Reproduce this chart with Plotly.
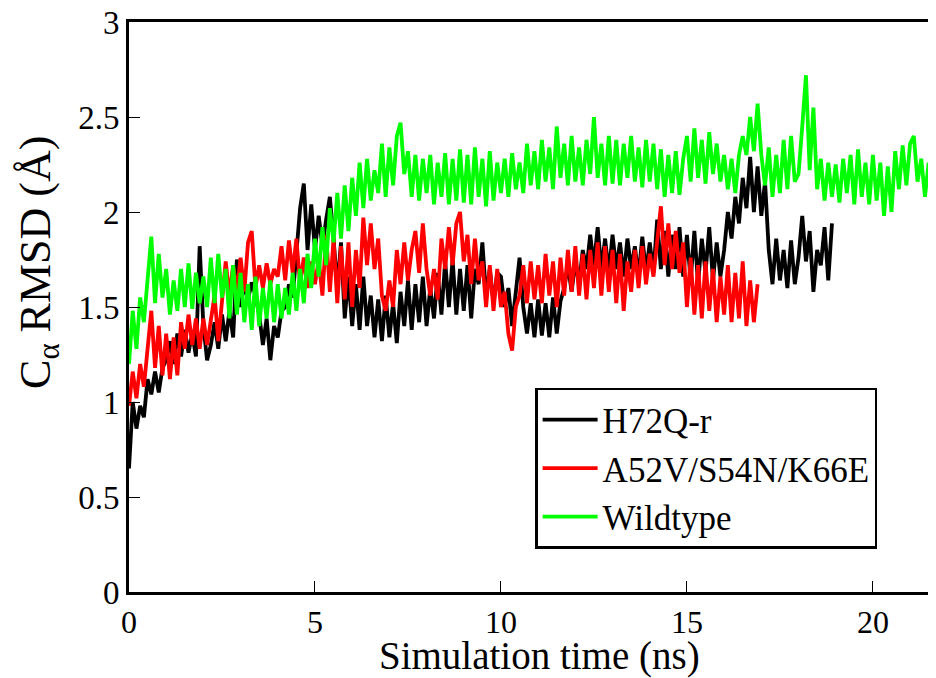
import plotly.graph_objects as go

# Sampling interval of the traces (ns)
DT = 0.1

series_names = ["H72Q-r", "A52V/S54N/K66E", "Wildtype"]
series_colors = ["#000000", "#ff0000", "#00ff00"]

# H72Q-r  C-alpha RMSD (Angstrom), 0 .. 18.9 ns
h72q_r = [
    0.65, 1.00, 0.86, 0.98, 0.92, 1.12, 1.04, 1.16, 1.05, 1.18,
    1.22, 1.32, 1.20, 1.36, 1.24, 1.38, 1.26, 1.36, 1.24, 1.82,
    1.40, 1.22, 1.30, 1.42, 1.28, 1.46, 1.32, 1.48, 1.34, 1.75,
    1.50, 1.62, 1.54, 1.63, 1.56, 1.46, 1.30, 1.44, 1.22, 1.40,
    1.34, 1.48, 1.50, 1.62, 1.55, 1.80, 2.02, 2.15, 1.80, 2.04,
    1.80, 1.98, 1.82, 1.96, 2.08, 1.86, 1.60, 1.84, 1.44, 1.66,
    1.40, 1.62, 1.38, 1.66, 1.40, 1.56, 1.34, 1.54, 1.32, 1.56,
    1.34, 1.52, 1.31, 1.58, 1.40, 1.64, 1.38, 1.62, 1.42, 1.66,
    1.40, 1.60, 1.44, 1.68, 1.46, 1.74, 1.50, 1.75, 1.46, 1.70,
    1.48, 1.72, 1.44, 1.70, 1.62, 1.84, 1.56, 1.70, 1.52, 1.68,
    1.66, 1.50, 1.60, 1.40, 1.56, 1.76, 1.50, 1.36, 1.52, 1.34,
    1.54, 1.35, 1.52, 1.34, 1.55, 1.36, 1.53, 1.60, 1.72, 1.58,
    1.74, 1.62, 1.80, 1.70, 1.88, 1.72, 1.92, 1.70, 1.86, 1.68,
    1.88, 1.70, 1.84, 1.66, 1.86, 1.70, 1.82, 1.66, 1.87, 1.68,
    1.84, 1.68, 1.96, 1.70, 1.90, 1.66, 1.88, 1.70, 1.92, 1.66,
    1.88, 1.64, 1.90, 1.62, 1.86, 1.68, 1.92, 1.64, 1.84, 1.66,
    1.80, 2.00, 1.86, 2.08, 1.94, 2.18, 2.02, 2.29, 2.00, 2.24,
    1.98, 2.16, 1.80, 1.62, 1.86, 1.64, 1.80, 1.60, 1.85, 1.62,
    1.76, 1.98, 1.74, 1.90, 1.58, 1.80, 1.72, 1.92, 1.64, 1.94,
]

# A52V/S54N/K66E  C-alpha RMSD (Angstrom), 0 .. 16.9 ns
a52v_s54n_k66e = [
    0.98, 1.16, 1.02, 1.20, 1.08, 1.30, 1.48, 1.18, 1.40, 1.14,
    1.36, 1.12, 1.34, 1.14, 1.42, 1.28, 1.46, 1.30, 1.44, 1.28,
    1.44, 1.30, 1.42, 1.56, 1.32, 1.54, 1.74, 1.56, 1.72, 1.58,
    1.76, 1.58, 1.84, 1.90, 1.60, 1.72, 1.60, 1.73, 1.62, 1.70,
    1.66, 1.82, 1.64, 1.85, 1.68, 1.86, 1.62, 1.76, 1.60, 1.74,
    1.62, 1.75, 1.56, 1.88, 1.58, 1.86, 1.52, 1.82, 1.54, 1.84,
    1.50, 1.80, 1.60, 1.97, 1.72, 1.94, 1.70, 1.86, 1.56, 1.48,
    1.64, 1.50, 1.80, 1.62, 1.84, 1.64, 1.80, 1.90, 1.68, 1.94,
    1.70, 1.56, 1.70, 1.54, 1.86, 1.70, 1.92, 1.72, 1.94, 2.00,
    1.74, 1.88, 1.62, 1.86, 1.64, 1.74, 1.50, 1.72, 1.48, 1.70,
    1.50, 1.58, 1.36, 1.27, 1.50, 1.56, 1.72, 1.52, 1.74, 1.54,
    1.72, 1.52, 1.78, 1.56, 1.74, 1.50, 1.76, 1.56, 1.80, 1.58,
    1.82, 1.56, 1.78, 1.54, 1.80, 1.60, 1.84, 1.56, 1.82, 1.58,
    1.80, 1.52, 1.78, 1.48, 1.74, 1.58, 1.80, 1.60, 1.82, 1.62,
    1.78, 1.66, 1.86, 2.03, 1.72, 1.94, 1.70, 1.90, 1.68, 1.84,
    1.50, 1.76, 1.46, 1.72, 1.44, 1.74, 1.48, 1.70, 1.42, 1.66,
    1.46, 1.72, 1.42, 1.68, 1.44, 1.74, 1.40, 1.64, 1.42, 1.62,
]

# Wildtype  C-alpha RMSD (Angstrom), 0 .. 21.8 ns
wildtype = [
    1.20, 1.48, 1.28, 1.55, 1.42, 1.62, 1.87, 1.52, 1.78, 1.55,
    1.70, 1.46, 1.64, 1.48, 1.70, 1.50, 1.73, 1.49, 1.68, 1.52,
    1.66, 1.50, 1.76, 1.52, 1.78, 1.55, 1.70, 1.44, 1.72, 1.46,
    1.68, 1.42, 1.62, 1.38, 1.66, 1.40, 1.60, 1.44, 1.64, 1.42,
    1.62, 1.44, 1.60, 1.46, 1.68, 1.48, 1.70, 1.52, 1.78, 1.60,
    1.86, 1.66, 1.92, 1.72, 2.02, 1.84, 2.10, 1.86, 2.14, 1.90,
    2.18, 1.98, 2.26, 2.02, 2.28, 2.06, 2.22, 2.10, 2.36, 2.08,
    2.34, 2.14, 2.40, 2.47, 2.20, 2.32, 2.08, 2.30, 2.06, 2.28,
    2.10, 2.30, 2.04, 2.26, 2.08, 2.31, 2.04, 2.28, 2.06, 2.33,
    2.05, 2.30, 2.04, 2.34, 2.08, 2.28, 2.03, 2.32, 2.06, 2.26,
    2.10, 2.28, 2.08, 2.31, 2.12, 2.26, 2.10, 2.36, 2.14, 2.32,
    2.12, 2.38, 2.16, 2.34, 2.12, 2.45, 2.18, 2.36, 2.14, 2.40,
    2.16, 2.34, 2.14, 2.38, 2.20, 2.50, 2.18, 2.36, 2.14, 2.40,
    2.15, 2.38, 2.14, 2.36, 2.18, 2.40, 2.16, 2.34, 2.13, 2.38,
    2.16, 2.36, 2.12, 2.33, 2.08, 2.30, 2.10, 2.32, 2.09, 2.28,
    2.40, 2.16, 2.44, 2.18, 2.38, 2.15, 2.42, 2.20, 2.36, 2.16,
    2.30, 2.12, 2.28, 2.10, 2.30, 2.40, 2.30, 2.50, 2.32, 2.57,
    2.30, 2.14, 2.34, 2.08, 2.30, 2.10, 2.38, 2.12, 2.40, 2.16,
    2.20, 2.45, 2.72, 2.22, 2.55, 2.12, 2.28, 2.06, 2.26, 2.08,
    2.25, 2.05, 2.28, 2.10, 2.30, 2.04, 2.33, 2.08, 2.26, 2.04,
    2.30, 2.06, 2.26, 1.98, 2.24, 2.00, 2.32, 2.12, 2.35, 2.14,
    2.36, 2.40, 2.16, 2.28, 2.08, 2.26, 2.06, 2.29, 2.12,
]

x_ticks = [0, 5, 10, 15, 20]
y_ticks = [0, 0.5, 1, 1.5, 2, 2.5, 3]
x_title = "Simulation time (ns)"
y_title = "C<sub>α</sub> RMSD (Å)"

FONT = "Liberation Serif"

fig = go.Figure()
for name, color, vals in zip(series_names, series_colors,
                             [h72q_r, a52v_s54n_k66e, wildtype]):
    t = [i * DT for i in range(len(vals))]
    fig.add_trace(go.Scatter(
        x=t, y=vals, mode="lines", name=name,
        line=dict(color=color, width=3.8),
    ))

fig.update_layout(
    width=936, height=678,
    margin=dict(l=121, r=6, t=14, b=94),
    paper_bgcolor="white", plot_bgcolor="white",
    font=dict(family=FONT, color="black"),
    showlegend=True,
    legend=dict(
        x=0.502, y=0.358, xanchor="left", yanchor="top",
        bgcolor="white", bordercolor="black", borderwidth=2.5,
        font=dict(family=FONT, size=35, color="black"),
        itemwidth=55, tracegroupgap=0,
    ),
    xaxis=dict(
        range=[0, 21.75], tickvals=x_ticks, ticks="inside", ticklen=11,
        tickwidth=1, tickcolor="black", showgrid=False, zeroline=False,
        showline=True, linewidth=3, linecolor="black", mirror=True,
        tickfont=dict(family=FONT, size=32, color="black"),
        ticklabeloverflow="allow",
        automargin=False,
    ),
    yaxis=dict(
        range=[0, 3], tickvals=y_ticks, ticks="inside", ticklen=11,
        tickwidth=1, tickcolor="black", showgrid=False, zeroline=False,
        showline=True, linewidth=3, linecolor="black", mirror=False,
        tickfont=dict(family=FONT, size=33, color="black"),
        ticklabeloverflow="allow",
        automargin=False,
    ),
    annotations=[
        dict(text=x_title, xref="paper", yref="paper", x=0.507, y=-0.112,
             xanchor="center", yanchor="middle", showarrow=False,
             font=dict(family=FONT, size=39, color="black")),
        dict(text=y_title, xref="paper", yref="paper", x=-0.112, y=0.578,
             xanchor="center", yanchor="middle", showarrow=False, textangle=-90,
             font=dict(family=FONT, size=44, color="black")),
    ],
)

fig.write_html("out.html")
